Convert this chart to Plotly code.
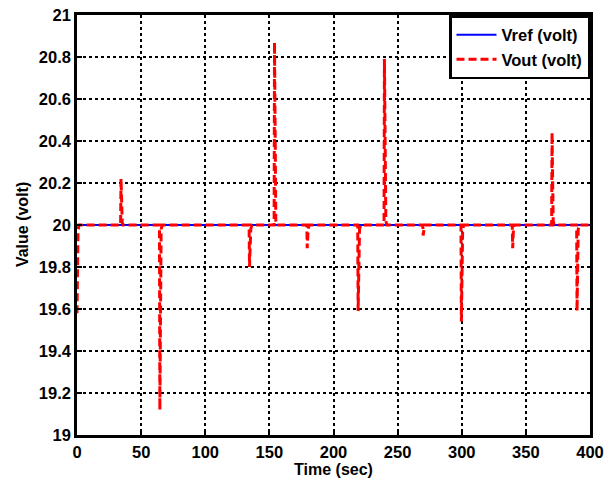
import plotly.graph_objects as go

# Reference voltage
vref_t = [0, 400]
vref_v = [20, 20]

# Output voltage breakpoints
vout_t = [0, 0.8, 1.5,
          34.0, 34.3, 35.3, 36.0,
          64.3, 64.6, 65.6, 66.5,
          134.2, 134.5, 135.5, 136.3,
          153.7, 154.0, 155.0, 155.8,
          179.2, 179.5, 180.2, 181.0,
          218.9, 219.2, 220.3, 221.2,
          239.4, 239.7, 240.8, 241.6,
          269.6, 269.9, 270.4, 271.0,
          299.4, 299.7, 300.7, 301.6,
          339.4, 339.7, 340.3, 341.0,
          370.1, 370.4, 371.3, 372.0,
          389.6, 389.9, 390.8, 391.6,
          400]
vout_v = [19.58, 19.97, 20.0,
          20.0, 20.22, 20.01, 20.0,
          20.0, 19.12, 19.98, 20.0,
          20.0, 19.80, 19.98, 20.0,
          20.0, 20.87, 20.02, 20.0,
          20.0, 19.89, 19.98, 20.0,
          20.0, 19.59, 19.98, 20.0,
          20.0, 20.79, 20.02, 20.0,
          20.0, 19.95, 19.98, 20.0,
          20.0, 19.54, 19.98, 20.0,
          20.0, 19.89, 19.98, 20.0,
          20.0, 20.44, 20.02, 20.0,
          20.0, 19.59, 19.98, 20.0,
          20.0]

x_ticks = [0, 50, 100, 150, 200, 250, 300, 350, 400]
y_ticks = [19, 19.2, 19.4, 19.6, 19.8, 20, 20.2, 20.4, 20.6, 20.8, 21]
y_labels = ["19", "19.2", "19.4", "19.6", "19.8", "20", "20.2", "20.4", "20.6", "20.8", "21"]

font_fam = "Liberation Sans, Arial, sans-serif"

fig = go.Figure()
fig.add_trace(go.Scatter(x=vref_t, y=vref_v, mode="lines", name="Vref (volt)",
                         line=dict(color="#0000ff", width=2.2)))
fig.add_trace(go.Scatter(x=vout_t, y=vout_v, mode="lines", name="Vout (volt)",
                         line=dict(color="#ff0000", width=3, dash="8px,4px")))

axis_common = dict(
    showline=True, linecolor="black", linewidth=2.5, mirror=True,
    ticks="inside", ticklen=5, tickwidth=2, tickcolor="black",
    showgrid=True, gridcolor="black", gridwidth=1.5, griddash="dot",
    zeroline=False, automargin=False,
    tickfont=dict(family=font_fam, size=16.5, color="black", weight="bold"),
)

fig.update_layout(
    width=615, height=479,
    margin=dict(l=77, r=25, t=15, b=44),
    paper_bgcolor="white", plot_bgcolor="white",
    xaxis=dict(range=[0, 400], tickvals=x_ticks,
               title=dict(text="Time (sec)", standoff=0,
                          font=dict(family=font_fam, size=16, color="black", weight="bold")),
               **axis_common),
    yaxis=dict(range=[19, 21], tickvals=y_ticks, ticktext=y_labels, **axis_common),
    legend=dict(x=1, y=1, xanchor="right", yanchor="top",
                bgcolor="white", bordercolor="black", borderwidth=2.5,
                font=dict(family=font_fam, size=16.5, color="black", weight="bold"),
                tracegroupgap=0, itemwidth=40),
    showlegend=True,
    annotations=[dict(text="Value (volt)", textangle=-90, showarrow=False,
                      xref="paper", yref="paper", x=-0.107, y=0.5,
                      xanchor="center", yanchor="middle",
                      font=dict(family=font_fam, size=16, color="black", weight="bold"))],
)

fig.write_html("out.html", config={"displayModeBar": False},
               post_script="document.body.style.margin='0';document.body.style.overflow='hidden';")
